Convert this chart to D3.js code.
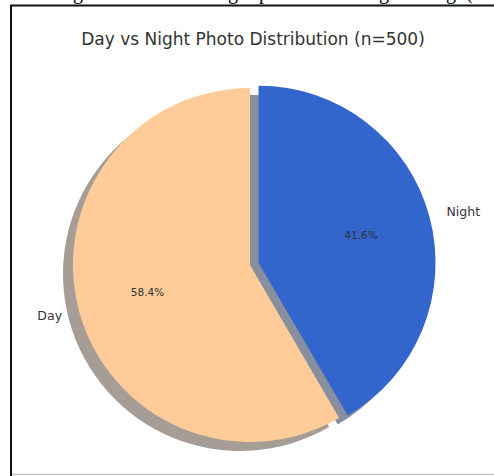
<!DOCTYPE html>
<html>
<head>
<meta charset="utf-8">
<style>
body { margin: 0; background: #fff; }
svg { display: block; font-family: "DejaVu Sans", sans-serif; }
</style>
</head>
<body>
<svg width="494" height="476"></svg>
<script src="https://d3js.org/d3.v7.min.js"></script>
<script>
// data
var categories = ["Night", "Day"];
var counts = [208, 292];
var colors = ["#3366cc", "#ffcc99"];
var explode = [0.05, 0];
var title = "Day vs Night Photo Distribution (n=500)";

var svg = d3.select("svg");

// leftover bits of the page around the screenshot
svg.append("text")
    .attr("font-family", "Liberation Serif, serif")
    .attr("font-size", 20)
    .attr("fill", "#000")
    .selectAll("tspan")
    .data([["g", 73], ["g", 228], ["p", 259], ["g", 379], ["g", 446], ["(", 466]])
    .enter().append("tspan")
      .attr("x", function(d) { return d[1]; })
      .attr("y", -1)
      .text(function(d) { return d[0]; });

svg.append("line").attr("x1", 10).attr("x2", 494).attr("y1", 5.5).attr("y2", 5.5)
    .attr("stroke", "#111").attr("stroke-width", 2);
svg.append("line").attr("x1", 11).attr("x2", 11).attr("y1", 5).attr("y2", 476)
    .attr("stroke", "#111").attr("stroke-width", 2);
svg.append("line").attr("x1", 12).attr("x2", 494).attr("y1", 474.5).attr("y2", 474.5)
    .attr("stroke", "#c4c4c4").attr("stroke-width", 1.5);

svg.append("text")
    .attr("x", 253)
    .attr("y", 45)
    .attr("text-anchor", "middle")
    .attr("font-size", 17)
    .attr("fill", "#333")
    .text(title);

var r = 177, cx = 250, cy = 265;
var shadowDx = -10, shadowDy = 9;

var total = d3.sum(counts);
var pie = d3.pie().sort(null)(counts);
var arc = d3.arc().innerRadius(0).outerRadius(r);
var pctArc = d3.arc().innerRadius(r * 0.6).outerRadius(r * 0.6);
var lblArc = d3.arc().innerRadius(r * 1.1).outerRadius(r * 1.1);

function offset(d, i) {
  var a = (d.startAngle + d.endAngle) / 2;
  return [Math.sin(a) * explode[i] * r, -Math.cos(a) * explode[i] * r];
}

var g = svg.append("g").attr("transform", "translate(" + cx + "," + cy + ")");

// shadows below every wedge
g.append("g").selectAll("path")
  .data(pie)
  .enter().append("path")
    .attr("transform", function(d, i) {
      var o = offset(d, i);
      return "translate(" + (o[0] + shadowDx) + "," + (o[1] + shadowDy) + ")";
    })
    .attr("d", arc)
    .attr("fill", function(d, i) {
      var c = d3.rgb(colors[i]);
      return d3.rgb(c.r * 0.3, c.g * 0.3, c.b * 0.3);
    })
    .attr("fill-opacity", 0.5);

var wedges = g.append("g").selectAll("g")
  .data(pie)
  .enter().append("g")
    .attr("transform", function(d, i) {
      var o = offset(d, i);
      return "translate(" + o[0] + "," + o[1] + ")";
    });

wedges.append("path")
    .attr("d", arc)
    .attr("fill", function(d, i) { return colors[i]; });

wedges.append("text")
    .attr("transform", function(d) { return "translate(" + pctArc.centroid(d) + ")"; })
    .attr("text-anchor", "middle")
    .attr("dy", "0.35em")
    .attr("font-size", 10.5)
    .attr("fill", "#333")
    .text(function(d) { return (d.value / total * 100).toFixed(1) + "%"; });

wedges.append("text")
    .attr("transform", function(d) { return "translate(" + lblArc.centroid(d) + ")"; })
    .attr("text-anchor", function(d) {
      return (d.startAngle + d.endAngle) / 2 < Math.PI ? "start" : "end";
    })
    .attr("dy", "0.35em")
    .attr("font-size", 12.5)
    .attr("fill", "#333")
    .text(function(d, i) { return categories[i]; });
</script>
</body>
</html>
